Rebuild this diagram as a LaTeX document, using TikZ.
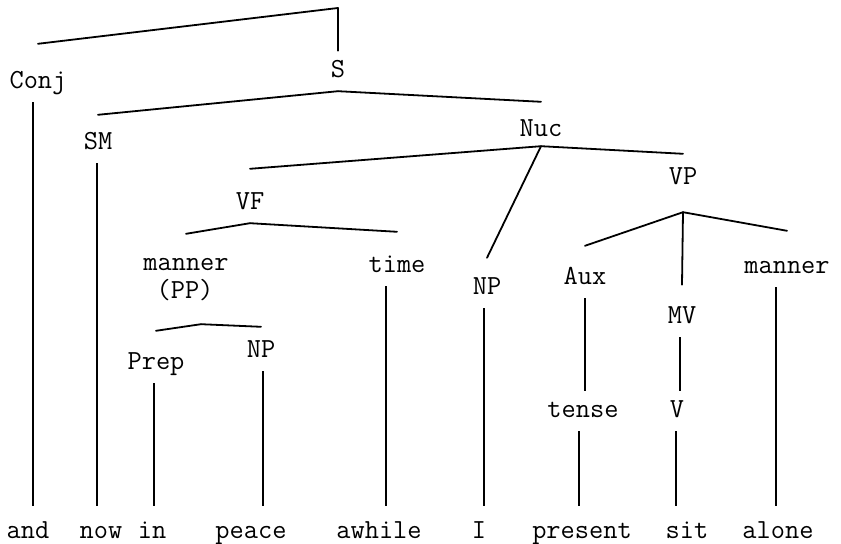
\documentclass[tikz,border=0pt]{standalone}
\usepackage{fontspec}
\usetikzlibrary{positioning}

\begin{document}
\begin{tikzpicture}[x=0.5pt, y=-0.5pt]
	\tikzstyle{Label}	= [inner sep=4pt, text height=9pt, text depth=2.8pt, font=\ttfamily\fontsize{13.8}{16}\selectfont]
	\tikzstyle{Word}	= [Label, inner ysep=7pt]
	\tikzstyle{Branch}	= [line width=0.9pt, line cap=round, line join=round]
	\tikzstyle{Stem}	= [line width=0.65pt]

	\useasboundingbox (0,0) rectangle (841,544);

	% labels of the tree
	\foreach \n/\x/\y/\t in {Conj/38/82/Conj, S/338/71/S, SM/98/143/SM, Nuc/541/130/Nuc, VF/250/203/VF, VP/683/178/VP, MannerA/186/264/manner, PP/185/292/(PP), Time/397/266/time, NPa/487/288/NP, Aux/585/278/Aux, MV/682/317/MV, MannerB/787/267/manner, Prep/156/363/Prep, NPb/261/351/NP, Tense/583/411/tense, V/677/411/V}
		\node (v\n) at (\x, \y) [Label] {\t};
	% words
	\foreach \w/\x in {and/28, now/101, in/152, peace/251, awhile/379, I/479, present/582, sit/687, alone/778}
		\node (w\w) at (\x, 532) [Word] {\w};

	\coordinate (root) at (338, 8);
	\draw [Branch] ([yshift=9pt]vConj.north) -- (root) -- (vS.north);
	% branches, with shifts of both ends
	\foreach \a/\b/\s/\p/\q in {S/SM/0/0/4, S/Nuc/0/0/4, Nuc/VF/0/2/7, Nuc/NPa/0/2/5, Nuc/VP/0/2/2, VF/MannerA/0/0/5, VF/Time/0/0/7, PP/Prep/8/-6/6, PP/NPb/8/-6/2, VP/Aux/0/-7/6, VP/MV/0/-7/6, VP/MannerB/0/-7/8}
		\draw [Branch] ([xshift=\s pt, yshift=\p pt]v\a.south) -- ([yshift=\q pt]v\b.north);

	\foreach \a/\b/\s in {Conj/and/-5, SM/now/-1, Prep/in/-2, NPb/peace/2, Time/awhile/-11, NPa/I/-3, Tense/present/-4, V/sit/-1, MannerB/alone/-11}
		\draw [Stem] ([xshift=\s*0.5pt]v\a.south) -- ([xshift=\s*0.5pt]v\a.south |- w\b.north);
	\draw [Stem] (vAux.south) -- (vAux.south |- vTense.north);
	\draw [Stem] ([xshift=-1pt]vMV.south) -- ([xshift=-1pt]vMV.south |- vV.north);
\end{tikzpicture}
\end{document}
